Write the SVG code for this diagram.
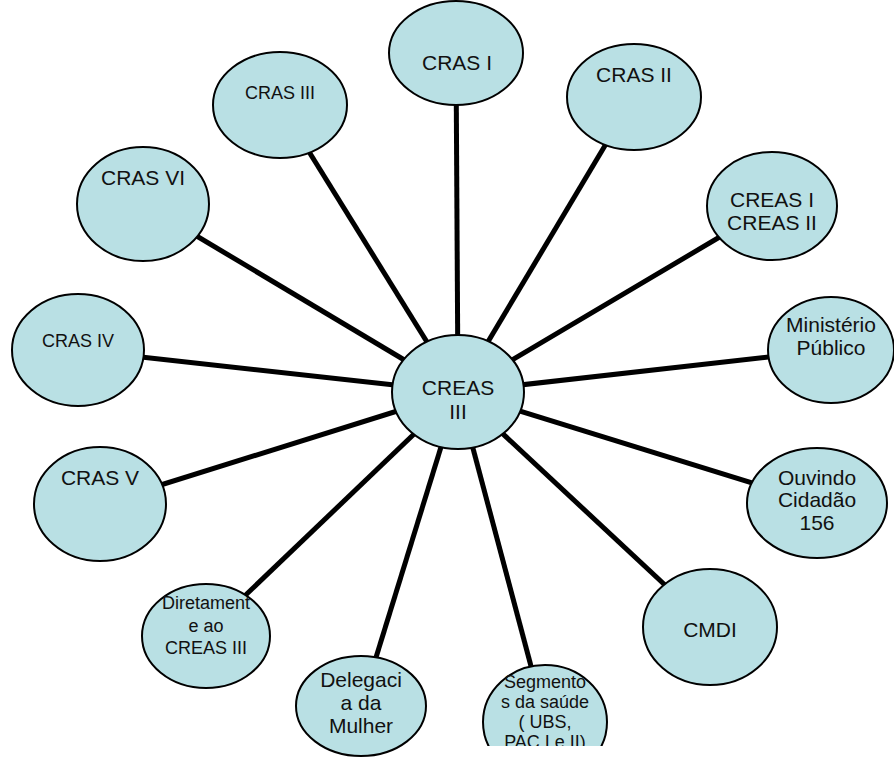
<svg xmlns="http://www.w3.org/2000/svg" width="894" height="758" viewBox="0 0 894 758">
<style>
.n{fill:#b9e0e4;stroke:#000;stroke-width:2}
.t{font-family:"Liberation Sans",Arial,sans-serif;font-size:21px;fill:#111;text-anchor:middle}
.s{font-size:18px}
.c{stroke:#000;stroke-width:5;stroke-linecap:butt;fill:none}
</style>
<defs>
<clipPath id="clipSeg"><rect x="0" y="0" width="894" height="746"/></clipPath>
</defs>
<rect width="894" height="758" fill="#fff"/>
<g id="connectors" class="c">
<line x1="458" y1="392" x2="456" y2="53"/>
<line x1="458" y1="392" x2="280" y2="105"/>
<line x1="458" y1="392" x2="634" y2="97"/>
<line x1="458" y1="392" x2="772" y2="206"/>
<line x1="458" y1="392" x2="831" y2="350"/>
<line x1="458" y1="392" x2="817" y2="503"/>
<line x1="458" y1="392" x2="710" y2="627"/>
<line x1="458" y1="392" x2="540" y2="700"/>
<line x1="458" y1="392" x2="361" y2="706"/>
<line x1="458" y1="392" x2="230" y2="610"/>
<line x1="458" y1="392" x2="100" y2="504"/>
<line x1="458" y1="392" x2="78" y2="350"/>
<line x1="458" y1="392" x2="143" y2="204"/>
</g>
<g id="cras1"><ellipse class="n" cx="456" cy="53" rx="67" ry="52"/><text class="t" x="457" y="70">CRAS I</text></g>
<g id="cras3"><ellipse class="n" cx="280" cy="105" rx="67" ry="53"/><text class="t s" x="280" y="99">CRAS III</text></g>
<g id="cras2"><ellipse class="n" cx="634" cy="97" rx="67" ry="53"/><text class="t" x="634" y="82">CRAS II</text></g>
<g id="creas12"><ellipse class="n" cx="772" cy="206" rx="65" ry="54"/><text class="t" x="772" y="207">CREAS I</text><text class="t" x="772" y="230">CREAS II</text></g>
<g id="ministerio"><ellipse class="n" cx="831" cy="350" rx="63" ry="53"/><text class="t" x="831" y="332">Ministério</text><text class="t" x="831" y="355">Público</text></g>
<g id="ouvindo"><ellipse class="n" cx="817" cy="503" rx="70" ry="55"/><text class="t" x="817" y="485">Ouvindo</text><text class="t" x="817" y="507">Cidadão</text><text class="t" x="817" y="530">156</text></g>
<g id="cmdi"><ellipse class="n" cx="710" cy="627" rx="67" ry="58"/><text class="t" x="710" y="637">CMDI</text></g>
<g id="segmentos" clip-path="url(#clipSeg)"><ellipse class="n" cx="545" cy="722" rx="62" ry="57"/><text class="t s" x="545" y="688">Segmento</text><text class="t s" x="545" y="708">s da saúde</text><text class="t s" x="545" y="728">( UBS,</text><text class="t s" x="545" y="748">PAC I e II)</text></g>
<g id="delegacia"><ellipse class="n" cx="361" cy="706" rx="65" ry="50"/><text class="t" x="361" y="687">Delegaci</text><text class="t" x="361" y="710">a da</text><text class="t" x="361" y="733">Mulher</text></g>
<g id="diretamente"><ellipse class="n" cx="206" cy="636" rx="64" ry="52"/><text class="t s" x="206" y="609">Diretament</text><text class="t s" x="206" y="632">e ao</text><text class="t s" x="206" y="654">CREAS III</text></g>
<g id="cras5"><ellipse class="n" cx="100" cy="504" rx="66" ry="57"/><text class="t" x="100" y="485">CRAS V</text></g>
<g id="cras4"><ellipse class="n" cx="78" cy="350" rx="66" ry="56"/><text class="t s" x="78" y="347">CRAS IV</text></g>
<g id="cras6"><ellipse class="n" cx="143" cy="204" rx="66" ry="57"/><text class="t" x="143" y="185">CRAS VI</text></g>
<g id="creas3"><ellipse class="n" cx="458" cy="392" rx="66" ry="57"/><text class="t" x="458" y="395">CREAS</text><text class="t" x="458" y="419">III</text></g>
</svg>
